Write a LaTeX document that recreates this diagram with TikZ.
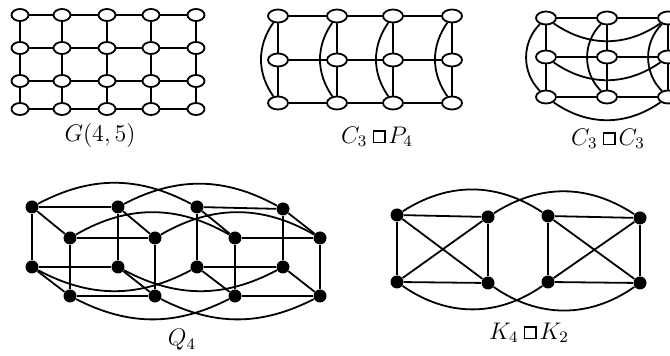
\documentclass[tikz,border=0pt]{standalone}
\usepackage{amssymb}
\usetikzlibrary{shapes.geometric}
\newcommand{\gbox}{\hbox{\vrule width .75pt\vbox to 6.6pt{\hrule height .75pt width 5pt\vfil\hrule height .75pt width 5pt}\vrule width .75pt}}
\newcommand{\cprod}{\mkern4mu\gbox\mkern2mu}
\tikzset{
  e/.style={line width=0.9pt},
  v/.style={draw, ellipse, line width=0.9pt, minimum width=8.5pt, minimum height=6pt, inner sep=0pt, fill=white},
  vb/.style={v, minimum width=10pt, minimum height=6.5pt},
  dv/.style={circle, fill=black, minimum size=6.5pt, inner sep=0pt},
  lab/.style={font=\large, inner sep=0pt}
}
\begin{document}
\begin{tikzpicture}[x=0.5pt,y=-0.5pt]
\useasboundingbox (0,0) rectangle (670,356);

% ---------- G(4,5) ----------
\foreach \x [count=\i] in {20,62,107,151,196}{
  \foreach \y [count=\j] in {15,48,81,109}{
    \node[v] (g\i\j) at (\x,\y) {};
  }
}
\foreach \i/\k in {1/2,2/3,3/4,4/5}{
  \foreach \j in {1,2,3,4}{
    \draw[e] (g\i\j) -- (g\k\j);
  }
}
\foreach \i in {1,...,5}{
  \foreach \j/\m in {1/2,2/3,3/4}{
    \draw[e] (g\i\j) -- (g\i\m);
  }
}
\node[lab] (lg) at (100,136) {$G(4,5)$};

% ---------- C3 box P4 ----------
\foreach \x [count=\i] in {278,337,393,452}{
  \foreach \y [count=\j] in {16,60,103}{
    \node[vb] (p\i\j) at (\x,\y) {};
  }
}
\foreach \i/\k in {1/2,2/3,3/4}{
  \foreach \j in {1,2,3}{
    \draw[e] (p\i\j) -- (p\k\j);
  }
}
\foreach \i in {1,...,4}{
  \draw[e] (p\i1) -- (p\i2);
  \draw[e] (p\i2) -- (p\i3);
  \draw[e] (p\i1) to[out=235,in=125] (p\i3);
}
\node[lab] (lp) at (377,137) {$C_3\cprod P_4$};

% ---------- C3 box C3 ----------
\foreach \x [count=\i] in {546,607,668}{
  \foreach \y [count=\j] in {18,57,97}{
    \node[vb] (c\i\j) at (\x,\y) {};
  }
}
\foreach \i/\k in {1/2,2/3}{
  \foreach \j in {1,2,3}{
    \draw[e] (c\i\j) -- (c\k\j);
  }
}
\foreach \i in {1,2,3}{
  \draw[e] (c\i1) -- (c\i2);
  \draw[e] (c\i2) -- (c\i3);
  \draw[e] (c\i1) to[out=225,in=135] (c\i3);
}
\foreach \j in {1,2,3}{
  \draw[e] (c1\j) to[bend right=35] (c3\j);
}
\node[lab] (lc) at (608,139) {$C_3\cprod C_3$};

% ---------- Q4 ----------
\node[dv] (a1) at (32,207) {};
\node[dv] (a2) at (118,207) {};
\node[dv] (a3) at (197,207) {};
\node[dv] (a4) at (283,209) {};
\node[dv] (b1) at (70,238) {};
\node[dv] (b2) at (155,238) {};
\node[dv] (b3) at (235,238) {};
\node[dv] (b4) at (320,238) {};
\node[dv] (d1) at (32,267) {};
\node[dv] (d2) at (118,267) {};
\node[dv] (d3) at (197,267) {};
\node[dv] (d4) at (283,267) {};
\node[dv] (f1) at (70,296) {};
\node[dv] (f2) at (155,296) {};
\node[dv] (f3) at (235,296) {};
\node[dv] (f4) at (320,296) {};
\foreach \i/\k in {1/2,3/4}{
  \draw[e] (a\i) -- (a\k);
  \draw[e] (b\i) -- (b\k);
  \draw[e] (d\i) -- (d\k);
  \draw[e] (f\i) -- (f\k);
}
\foreach \i in {1,...,4}{
  \draw[e] (a\i) -- (b\i);
  \draw[e] (d\i) -- (f\i);
  \draw[e] (a\i) -- (d\i);
  \draw[e] (b\i) -- (f\i);
}
\foreach \i/\k in {1/3,2/4}{
  \draw[e] (a\i) to[bend left=28] (a\k);
  \draw[e] (b\i) to[bend left=30] (b\k);
  \draw[e] (d\i) to[bend right=28] (d\k);
  \draw[e] (f\i) to[bend right=27] (f\k);
}
\node[lab] (lq) at (182,340) {$Q_4$};

% ---------- K4 box K2 ----------
\node[dv] (k1) at (397,215) {};
\node[dv] (k2) at (488,217) {};
\node[dv] (k3) at (548,216) {};
\node[dv] (k4) at (640,218) {};
\node[dv] (l1) at (397,282) {};
\node[dv] (l2) at (488,283) {};
\node[dv] (l3) at (548,282) {};
\node[dv] (l4) at (640,283) {};
\foreach \i/\k in {1/2,3/4}{
  \draw[e] (k\i) -- (k\k);
  \draw[e] (l\i) -- (l\k);
  \draw[e] (k\i) -- (l\i);
  \draw[e] (k\k) -- (l\k);
  \draw[e] (k\i) -- (l\k);
  \draw[e] (k\k) -- (l\i);
}
\foreach \i/\k in {1/3,2/4}{
  \draw[e] (k\i) to[bend left=33] (k\k);
  \draw[e] (l\i) to[bend right=35] (l\k);
}
\node[lab] (lk) at (529,333) {$K_4\cprod K_2$};
\end{tikzpicture}
\end{document}
